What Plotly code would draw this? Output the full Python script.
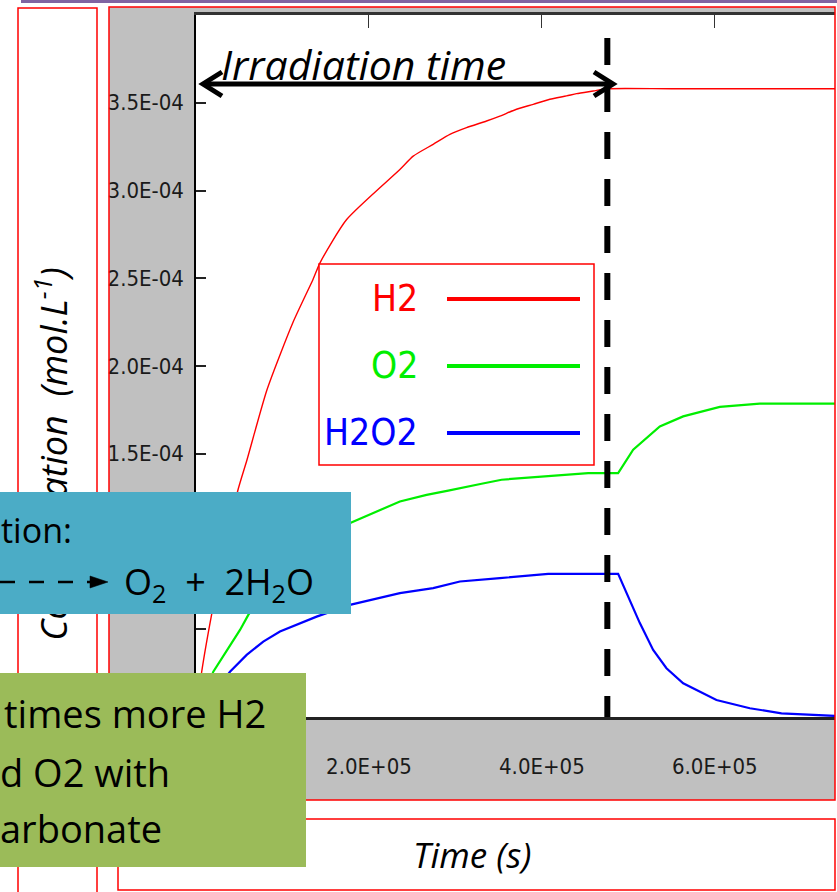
import plotly.graph_objects as go

# ---------------- data (t in s, concentrations in mol/L) ----------------
time_h2 = [0, 0.066e5, 0.18e5, 0.33e5, 0.486e5, 0.59e5, 0.821e5, 1.121e5, 1.353e5,
           1.434e5, 1.742e5, 2.358e5, 2.512e5, 2.743e5, 2.936e5, 3.129e5, 3.36e5,
           3.514e5, 3.707e5, 3.9e5, 4.092e5, 4.285e5, 4.401e5, 4.594e5, 4.757e5,
           5.5e5, 7.39e5]
h2 = [0, 0.258e-4, 0.582e-4, 0.95e-4, 1.295e-4, 1.466e-4, 1.865e-4, 2.248e-4, 2.493e-4,
      2.588e-4, 2.835e-4, 3.120e-4, 3.196e-4, 3.263e-4, 3.320e-4, 3.358e-4, 3.396e-4,
      3.424e-4, 3.463e-4, 3.491e-4, 3.520e-4, 3.539e-4, 3.552e-4, 3.567e-4, 3.58e-4,
      3.58e-4, 3.58e-4]

time_o2 = [0, 0.2e5, 0.509e5, 0.605e5, 0.9e5, 1.2e5, 1.5e5, 1.79e5, 2.358e5, 2.667e5,
           2.917e5, 3.052e5, 3.303e5, 3.534e5, 3.939e5, 4.536e5, 4.882e5, 5.056e5,
           5.364e5, 5.634e5, 6.058e5, 6.52e5, 7.39e5]
o2 = [0, 0.258e-4, 0.496e-4, 0.582e-4, 0.79e-4, 0.93e-4, 1.03e-4, 1.107e-4, 1.228e-4, 1.266e-4,
      1.29e-4, 1.305e-4, 1.329e-4, 1.352e-4, 1.367e-4, 1.39e-4, 1.39e-4, 1.523e-4,
      1.656e-4, 1.713e-4, 1.767e-4, 1.786e-4, 1.786e-4]

time_h2o2 = [0, 0.393e5, 0.586e5, 0.778e5, 0.971e5, 1.164e5, 1.395e5, 1.78e5, 2.358e5,
             2.743e5, 3.052e5, 3.514e5, 4.073e5, 4.882e5, 4.979e5, 5.133e5, 5.287e5,
             5.441e5, 5.634e5, 6.019e5, 6.405e5, 6.771e5, 7.39e5]
h2o2 = [0, 0.258e-4, 0.354e-4, 0.430e-4, 0.487e-4, 0.525e-4, 0.572e-4, 0.639e-4, 0.706e-4,
        0.734e-4, 0.772e-4, 0.791e-4, 0.816e-4, 0.816e-4, 0.706e-4, 0.535e-4, 0.382e-4,
        0.278e-4, 0.192e-4, 0.097e-4, 0.050e-4, 0.021e-4, 0.006e-4]

series_names = ["H2", "O2", "H2O2"]
series_colors = ["#FF0000", "#00EE00", "#0000FF"]

t_stop = 4.757e5
x_range = [0, 7.39e5]
y_range = [0, 4.0e-4]

x_tickvals = [2e5, 4e5, 6e5]
x_ticktext = ["2.0E+05", "4.0E+05", "6.0E+05"]
y_tickvals = [0.5e-4, 1.0e-4, 1.5e-4, 2.0e-4, 2.5e-4, 3.0e-4, 3.5e-4]
y_ticktext = ["", "1.0E-04", "1.5E-04", "2.0E-04", "2.5E-04", "3.0E-04", "3.5E-04"]

# ---------------- geometry helpers (pixel -> paper) ----------------
W, H = 837, 892
L, R, T, B = 196, 835, 15, 717


def px(x):
    return (x - L) / (R - L)


def py(y):
    return (B - y) / (B - T)


NARROW = "Liberation Sans Narrow, Arial Narrow, DejaVu Sans Condensed, sans-serif"
GEO = "Open Sans, Lato, sans-serif"

fig = go.Figure()
for tx, yy, name, col, w, shp in [(time_h2, h2, "H2", series_colors[0], 1.4, "spline"),
                                  (time_o2, o2, "O2", series_colors[1], 2.2, "linear"),
                                  (time_h2o2, h2o2, "H2O2", series_colors[2], 2.2, "linear")]:
    fig.add_trace(go.Scatter(x=tx, y=yy, name=name, mode="lines",
                             line=dict(color=col, width=w, shape=shp, smoothing=0.6),
                             hoverinfo="skip"))
# empty trace to create the top (mirror) axis with ticks
fig.add_trace(go.Scatter(x=[], y=[], xaxis="x2", yaxis="y", showlegend=False))

shapes = []


def rect(x0, y0, x1, y1, fill=None, line=None, lw=0, layer="below", label=None):
    d = dict(type="rect", xref="paper", yref="paper",
             x0=px(x0), x1=px(x1), y0=py(y1), y1=py(y0),
             fillcolor=fill if fill else "rgba(0,0,0,0)",
             line=dict(color=line if line else "rgba(0,0,0,0)", width=lw), layer=layer)
    if label:
        d["label"] = label
    shapes.append(d)


def path(pts, color="black", lw=2, fill=None, layer="above", dash=None, closed=False):
    s = "M " + " L ".join(f"{px(a):.5f},{py(b):.5f}" for a, b in pts)
    if closed:
        s += " Z"
    ln = dict(color=color, width=lw)
    if dash:
        ln["dash"] = dash
    shapes.append(dict(type="path", xref="paper", yref="paper", path=s,
                       fillcolor=fill if fill else "rgba(0,0,0,0)", line=ln, layer=layer))


# background decorations (below the plot)
rect(21, 0, 837, 3, fill="#8064A2")
rect(18, 8, 97, 898, fill="white", line="#FF0000", lw=1.5)
rect(30, 266, 85, 642, label=dict(text="<i>Concentration  (mol.L<sup>-1</sup>)</i>", textangle=-90,
                                  textposition="middle center",
                                  font=dict(family=GEO, size=36, color="black")))
rect(109, 7, 835, 800, fill="#C0C0C0")
rect(L, T, R, B, fill="white")
rect(118, 819, 835, 890, fill="white", line="#FF0000", lw=1.5)

# above the plot
rect(109, 7, 835, 800, line="#FF0000", lw=1.5, layer="above")
shapes.append(dict(type="line", xref="x", yref="paper", x0=t_stop, x1=t_stop,
                   y0=py(38), y1=0, line=dict(color="black", width=6, dash="27px,20px"),
                   layer="above"))
# irradiation double arrow
path([(203, 84), (613, 84)], lw=5)
path([(222, 72), (203, 84), (222, 96)], lw=5)
path([(594, 72), (613, 84), (594, 96)], lw=5)
# legend box
rect(319, 264, 594, 465, fill="white", line="#FF0000", lw=1.5, layer="above")
for i, yy in enumerate([299, 366, 433]):
    path([(447, yy), (580, yy)], color=series_colors[i], lw=4)
# blue box
rect(0, 492, 351, 614, fill="#4BACC6", layer="above")
path([(0, 582), (94, 582)], lw=2.6, dash="15px,14px")
path([(90, 576), (108, 582), (90, 588)], lw=0.5, fill="black", closed=True)
# green box
rect(0, 673, 306, 867, fill="#9BBB59", layer="above")

annotations = []


def ann(text, x, y, size, family=GEO, color="black", xanchor="left"):
    annotations.append(dict(text=text, x=px(x), y=py(y), xref="paper", yref="paper",
                            showarrow=False, xanchor=xanchor, yanchor="middle",
                            font=dict(family=family, size=size, color=color)))


NB = "\u00a0"
ann("<i>Irradiation time</i>", 219, 64, 41)
ann("<i>Time (s)</i>", 411, 854, 35)
for i, yy in enumerate([298, 365, 432]):
    ann(series_names[i], 420, yy, 37, family=NARROW, color=series_colors[i], xanchor="right")
ann("tion:", -1, 530, 34)
ann("O<sub>2</sub>" + NB * 2 + "+" + NB * 2 + "2H<sub>2</sub>O", 122, 583, 36)
ann("times more H2", 2, 713, 38)
ann("d" + NB + "O2 with", -2, 772, 38)
ann("arbonate", -2, 828, 38)

fig.update_layout(
    width=W, height=H, autosize=False,
    margin=dict(l=L, r=W - R, t=T, b=H - B, pad=0),
    paper_bgcolor="white", plot_bgcolor="white", showlegend=False,
    shapes=shapes, annotations=annotations,
    xaxis=dict(range=x_range, showgrid=False, zeroline=False, showline=True,
               linecolor="#222222", linewidth=3, ticks="", tickvals=x_tickvals,
               ticktext=x_ticktext, ticklabelstandoff=28,
               tickfont=dict(family=NARROW, size=22, color="#1a1a1a")),
    xaxis2=dict(range=x_range, overlaying="x", side="top", anchor="y", showgrid=False,
                zeroline=False, showline=True, linecolor="#333333", linewidth=3,
                ticks="inside", ticklen=13, tickwidth=1.3, tickcolor="#333333",
                tickvals=x_tickvals, showticklabels=False),
    yaxis=dict(range=y_range, showgrid=False, zeroline=False, showline=True,
               linecolor="black", linewidth=1.5, ticks="inside", ticklen=10, tickwidth=2,
               tickcolor="#222222", tickvals=y_tickvals, ticktext=y_ticktext,
               ticklabelstandoff=6, tickfont=dict(family=NARROW, size=22, color="#1a1a1a")),
)

fig.write_html("out.html")
